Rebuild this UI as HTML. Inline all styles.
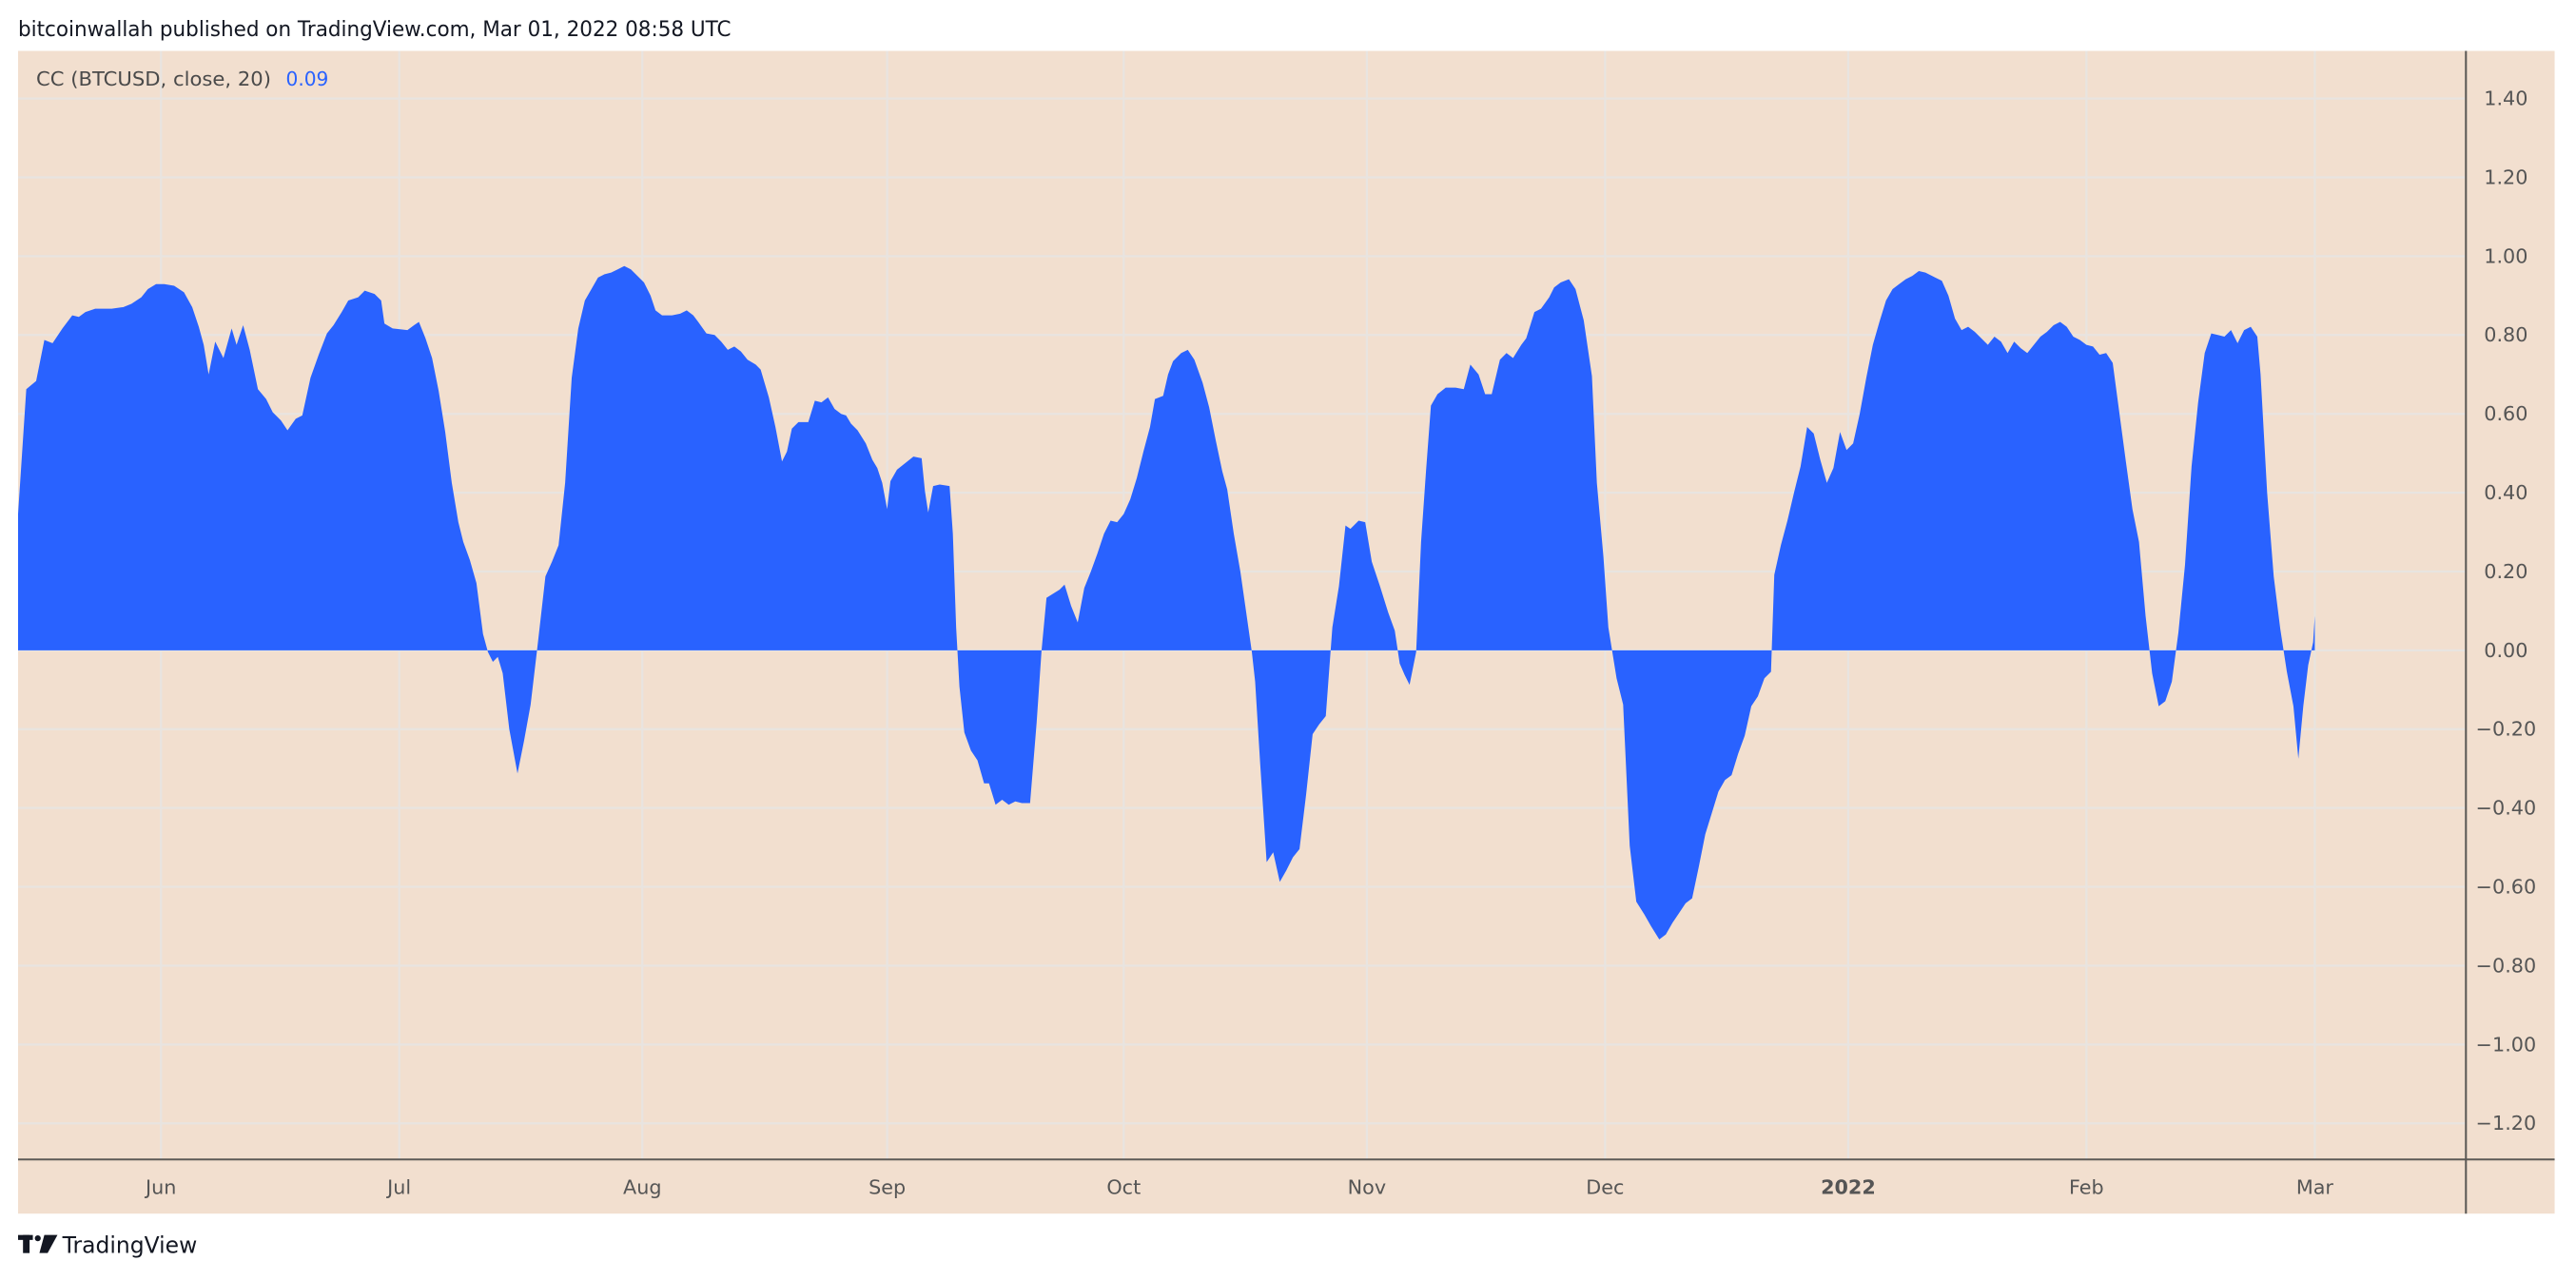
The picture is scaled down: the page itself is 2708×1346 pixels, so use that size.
<!DOCTYPE html>
<html><head><meta charset="utf-8"><style>
html,body{margin:0;padding:0;background:#fff;width:2708px;height:1346px;overflow:hidden}
svg{display:block}
text{font-family:"DejaVu Sans","Liberation Sans",sans-serif}
</style></head><body>
<svg width="2708" height="1346" viewBox="0 0 1568 779.4" preserveAspectRatio="none">
<text x="11" y="22" font-size="13" fill="#131722" textLength="434" lengthAdjust="spacingAndGlyphs">bitcoinwallah published on TradingView.com, Mar 01, 2022 08:58 UTC</text>
<rect x="11" y="31" width="1544" height="708" fill="#f2dfcf"/>
<g stroke="#e8e4e0" stroke-width="1.3">
<line x1="11" x2="1501" y1="60" y2="60"/><line x1="11" x2="1501" y1="108" y2="108"/><line x1="11" x2="1501" y1="156" y2="156"/><line x1="11" x2="1501" y1="204" y2="204"/><line x1="11" x2="1501" y1="252" y2="252"/><line x1="11" x2="1501" y1="300" y2="300"/><line x1="11" x2="1501" y1="348" y2="348"/><line x1="11" x2="1501" y1="396" y2="396"/><line x1="11" x2="1501" y1="444" y2="444"/><line x1="11" x2="1501" y1="492" y2="492"/><line x1="11" x2="1501" y1="540" y2="540"/><line x1="11" x2="1501" y1="588" y2="588"/><line x1="11" x2="1501" y1="636" y2="636"/><line x1="11" x2="1501" y1="684" y2="684"/>
<line x1="98" x2="98" y1="31" y2="706"/><line x1="243" x2="243" y1="31" y2="706"/><line x1="391" x2="391" y1="31" y2="706"/><line x1="540" x2="540" y1="31" y2="706"/><line x1="684" x2="684" y1="31" y2="706"/><line x1="832" x2="832" y1="31" y2="706"/><line x1="977" x2="977" y1="31" y2="706"/><line x1="1125" x2="1125" y1="31" y2="706"/><line x1="1270" x2="1270" y1="31" y2="706"/><line x1="1409" x2="1409" y1="31" y2="706"/>
</g>
<polygon fill="#2962ff" points="11,396 11,313 16,237 22,232 27,207 32,209 38,200 44,192 48,193 52,190 58,188 68,188 75,187 80,185 86,181 90,176 95,173 100,173 106,174 112,178 117,187 121,199 124,210 127,228 131,208 136,218 141,200 144,210 148,198 152,213 157,237 162,243 166,251 171,256 175,262 180,255 184,253 189,230 194,216 199,203 203,198 208,190 212,183 218,181 222,177 228,179 232,183 234,197 239,200 248,201 252,198 255,196 259,206 263,218 267,238 271,263 275,294 279,318 282,330 286,341 290,355 294,386 297,397 300,403 303,400 306,410 310,444 315,471 319,451 323,429 327,395 332,351 336,342 340,332 344,294 348,230 352,200 356,183 360,176 364,169 368,167 372,166 376,164 380,162 384,164 388,168 392,172 396,180 399,189 403,192 409,192 414,191 418,189 422,192 425,196 430,203 435,204 439,208 443,213 447,211 451,214 455,219 460,222 463,225 468,242 472,260 476,281 479,275 482,261 486,257 492,257 496,244 500,245 504,242 508,249 512,252 515,253 518,258 522,262 527,270 531,280 534,285 537,294 540,310 542,293 546,286 551,282 556,278 561,279 563,299 565,312 568,296 572,295 578,296 580,325 582,382 584,418 587,446 591,457 595,463 599,477 602,477 606,490 610,487 614,490 618,488 622,489 627,489 631,440 634,396 637,364 645,359 648,356 652,369 656,379 660,358 664,348 668,337 672,325 676,317 680,318 684,313 688,304 692,291 696,275 700,260 703,243 708,241 711,228 714,220 719,215 723,213 727,219 732,233 736,248 740,268 744,287 747,298 751,325 755,348 758,369 762,397 764,415 767,464 771,525 775,519 779,537 783,530 787,522 791,517 795,484 799,447 803,441 807,436 811,382 815,357 819,320 822,322 827,317 831,318 835,342 840,357 845,373 849,384 852,404 855,411 858,417 862,397 865,330 868,287 871,247 875,240 880,236 886,236 891,237 895,222 900,228 904,240 908,240 913,219 917,215 921,218 926,210 929,206 934,190 938,188 943,181 946,175 950,172 955,170 959,176 964,195 969,229 972,294 976,339 979,382 984,413 988,429 992,515 996,549 1001,557 1005,564 1010,572 1014,569 1018,562 1022,556 1026,550 1030,547 1034,528 1038,508 1042,495 1046,482 1050,475 1054,472 1058,459 1062,448 1066,430 1070,424 1074,413 1078,409 1080,350 1084,332 1088,317 1092,300 1096,284 1100,260 1104,264 1108,280 1112,294 1116,285 1120,263 1124,274 1128,270 1132,252 1136,230 1140,210 1144,196 1148,183 1152,176 1156,173 1160,170 1164,168 1168,165 1172,166 1178,169 1182,171 1186,180 1190,194 1194,201 1198,199 1202,202 1206,206 1210,210 1214,205 1218,208 1222,215 1226,208 1230,212 1234,215 1238,210 1242,205 1246,202 1250,198 1254,196 1258,199 1262,205 1266,207 1270,210 1274,211 1278,216 1282,215 1286,221 1290,251 1294,281 1298,310 1302,330 1306,375 1310,410 1314,430 1318,427 1322,415 1326,385 1330,344 1334,284 1338,245 1342,215 1346,203 1350,204 1354,205 1358,201 1362,209 1366,201 1370,199 1374,205 1376,228 1380,300 1384,351 1388,383 1392,409 1396,430 1399,462 1402,430 1405,405 1408,391 1409,375 1409,396"/>
<line x1="11" x2="1555" y1="706" y2="706" stroke="#5d5a57" stroke-width="1.2"/>
<line x1="1501" x2="1501" y1="31" y2="739" stroke="#5d5a57" stroke-width="1.2"/>
<text x="22" y="52" font-size="12" fill="#4a4a4a" textLength="143" lengthAdjust="spacingAndGlyphs">CC (BTCUSD, close, 20)</text>
<text x="174" y="52" font-size="12" fill="#2962ff" textLength="26" lengthAdjust="spacingAndGlyphs">0.09</text>
<g font-size="12" fill="#555">
<text x="1512" y="64">1.40</text><text x="1512" y="112">1.20</text><text x="1512" y="160">1.00</text><text x="1512" y="208">0.80</text><text x="1512" y="256">0.60</text><text x="1512" y="304">0.40</text><text x="1512" y="352">0.20</text><text x="1512" y="400">0.00</text><text x="1507" y="448">−0.20</text><text x="1507" y="496">−0.40</text><text x="1507" y="544">−0.60</text><text x="1507" y="592">−0.80</text><text x="1507" y="640">−1.00</text><text x="1507" y="688">−1.20</text>
</g>
<g font-size="12" fill="#555" text-anchor="middle">
<text x="98" y="727">Jun</text><text x="243" y="727">Jul</text><text x="391" y="727">Aug</text><text x="540" y="727">Sep</text><text x="684" y="727">Oct</text><text x="832" y="727">Nov</text><text x="977" y="727">Dec</text><text x="1125" y="727" font-weight="bold">2022</text><text x="1270" y="727">Feb</text><text x="1409" y="727">Mar</text>
</g>
<g fill="#131722">
<rect x="11" y="752" width="9" height="3"/><rect x="14" y="752" width="4" height="11"/>
<circle cx="23" cy="754" r="1.8"/><polygon points="27,752 35,752 29,763 24,763"/>
</g>
<text x="38" y="763" font-size="14" fill="#131722" textLength="82" lengthAdjust="spacingAndGlyphs">TradingView</text>
</svg>
</body></html>
